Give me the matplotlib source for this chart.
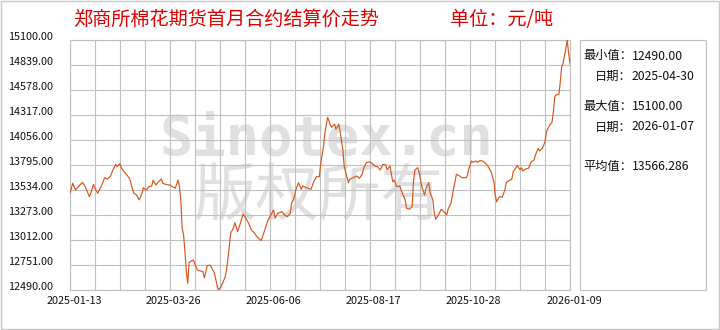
import matplotlib.pyplot as plt
import matplotlib.transforms as mtransforms
import pandas as pd

plt.rcParams['font.family'] = ['Noto Sans CJK SC', 'DejaVu Sans']

# 数据：自 2025-01-13 起的天数 与 结算价
start = '2025-01-13'
end = '2026-01-09'
day = [0, 2, 4, 6, 9, 11, 14, 15, 17, 18,
       20, 22, 23, 25, 27, 29, 31, 33, 34, 36,
       37, 39, 41, 43, 45, 46, 48, 50, 52, 53,
       55, 57, 59, 60, 62, 64, 66, 67, 69, 72,
       74, 76, 78, 79, 80, 81, 82, 83, 84, 85,
       86, 89, 92, 96, 97, 99, 101, 104, 105, 107,
       109, 112, 113, 115, 116, 118, 119, 120, 121, 123,
       125, 127, 129, 131, 133, 135, 138, 139, 141, 143,
       145, 147, 148, 150, 153, 155, 157, 159, 160, 162,
       163, 165, 167, 168, 170, 172, 174, 176, 178, 180,
       181, 183, 184, 186, 188, 189, 191, 192, 194, 195,
       197, 198, 201, 202, 205, 207, 209, 211, 212, 214,
       216, 218, 220, 222, 224, 226, 228, 229, 231, 232,
       233, 234, 236, 238, 240, 242, 243, 245, 247, 248,
       249, 251, 252, 254, 256, 257, 259, 260, 262, 263,
       264, 266, 268, 270, 272, 273, 275, 277, 279, 281,
       283, 286, 287, 288, 290, 291, 293, 294, 296, 298,
       300, 302, 304, 306, 307, 308, 310, 312, 314, 315,
       317, 319, 320, 323, 325, 326, 327, 329, 331, 333,
       335, 336, 338, 339, 341, 343, 344, 346, 348, 349,
       350, 351, 353, 354, 355, 356, 358, 359, 360, 361]
price = [13500, 13605, 13534, 13569, 13614, 13569, 13464, 13500, 13593, 13552,
         13500, 13558, 13586, 13662, 13649, 13673, 13743, 13802, 13777, 13809,
         13767, 13725, 13690, 13656, 13552, 13500, 13482, 13430, 13500, 13558,
         13531, 13569, 13576, 13638, 13586, 13621, 13649, 13604, 13593, 13586,
         13569, 13552, 13638, 13569, 13430, 13134, 13064, 12890, 12681, 12560,
         12779, 12803, 12699, 12681, 12615, 12741, 12751, 12678, 12615, 12490,
         12521, 12626, 12699, 12942, 13082, 13137, 13193, 13151, 13099, 13186,
         13283, 13239, 13186, 13116, 13088, 13046, 13005, 13046, 13134, 13221,
         13273, 13325, 13239, 13291, 13307, 13273, 13255, 13291, 13395, 13464,
         13534, 13610, 13541, 13576, 13562, 13552, 13541, 13621, 13673, 13673,
         13805, 13986, 14126, 14293, 14213, 14189, 14223, 14168, 14223, 14143,
         13952, 13777, 13610, 13646, 13667, 13680, 13656, 13701, 13761, 13819,
         13829, 13813, 13785, 13777, 13743, 13802, 13795, 13743, 13785, 13701,
         13621, 13638, 13569, 13576, 13500, 13430, 13343, 13333, 13360, 13621,
         13743, 13767, 13725, 13569, 13482, 13552, 13610, 13506, 13430, 13291,
         13228, 13273, 13333, 13307, 13273, 13336, 13395, 13552, 13698, 13683,
         13662, 13662, 13690, 13761, 13837, 13823, 13837, 13823, 13840, 13837,
         13813, 13777, 13725, 13621, 13482, 13412, 13464, 13458, 13534, 13614,
         13631, 13649, 13725, 13788, 13743, 13767, 13732, 13753, 13761, 13829,
         13847, 13899, 13969, 13941, 13969, 14038, 14143, 14205, 14241, 14351,
         14508, 14526, 14533, 14665, 14821, 14857, 15013, 15100, 14960, 14850]

y_ticks = [12490, 12751, 13012, 13273, 13534, 13795, 14056, 14317, 14578, 14839, 15100]
x_labels = ['2025-01-13', '2025-03-26', '2025-06-06', '2025-08-17', '2025-10-28', '2026-01-09']

title = '郑商所棉花期货首月合约结算价走势'
unit = '单位：元/吨'
stat_names = ['最小值：', '日期：', '最大值：', '日期：', '平均值：']
stat_values = ['12490.00', '2025-04-30', '15100.00', '2026-01-07', '13566.286']

W, H = 720, 330
grid_c = '#c0c0c0'
line_c = '#d6561e'

fig = plt.figure(figsize=(W / 100, H / 100), dpi=100)
ax = fig.add_axes([70 / W, 1 - 290 / H, 500 / W, 250 / H])

x0, x1 = pd.Timestamp(start), pd.Timestamp(end)
dates = x0 + pd.to_timedelta(day, unit='D')
ax.plot(dates, price, color=line_c, lw=0.85, zorder=3)
ax.set_xlim(x0, x1)
ax.set_ylim(y_ticks[0], y_ticks[-1])

# 网格
for t in pd.date_range(x0, x1, periods=21):
    ax.axvline(t, color=grid_c, lw=0.8, zorder=2)
for v in y_ticks:
    ax.axhline(v, color=grid_c, lw=0.8, zorder=2)
for s in ax.spines.values():
    s.set_color(grid_c)
    s.set_linewidth(0.8)

ax.set_xticks(pd.to_datetime(x_labels))
ax.set_xticklabels(x_labels, fontsize=7.8, color='#111111')
ax.set_yticks(y_ticks)
ax.set_yticklabels(['%d.00' % v for v in y_ticks], fontsize=7.8, color='#111111', ha='left')
ax.tick_params(axis='x', length=0, pad=4)
ax.tick_params(axis='y', length=0, pad=62 * 0.72)
dx = mtransforms.ScaledTranslation(4 / 100, 0, fig.dpi_scale_trans)
dy = mtransforms.ScaledTranslation(0, 4 / 100, fig.dpi_scale_trans)
for lab in ax.get_xticklabels():
    lab.set_transform(lab.get_transform() + dx)
for lab in ax.get_yticklabels():
    lab.set_transform(lab.get_transform() + dy)

# 水印
ax.text(326 / W, 1 - 155 / H, 'Sinotex.cn', transform=fig.transFigure, fontsize=40,
        family='DejaVu Sans Mono', weight='bold', color='#e0e0e0',
        ha='center', va='baseline', zorder=1)
ax.text(318 / W, 1 - 198 / H, '版权所有', transform=fig.transFigure, fontsize=45,
        color='#e0e0e0', ha='center', va='center', zorder=1)

# 标题
fig.text(73 / W, 1 - 19 / H, title, fontsize=13.8, color='#e00000', va='center')
fig.text(450 / W, 1 - 19 / H, unit, fontsize=13.8, color='#e00000', va='center')

# 右侧统计框
fig.add_artist(plt.Rectangle((580 / W, 1 - 290 / H), 126 / W, 250 / H,
                             transform=fig.transFigure, fill=False, ec=grid_c, lw=0.8))
stat_y = [56, 76, 106, 127, 166]
for name, val, yy in zip(stat_names, stat_values, stat_y):
    fig.text(632 / W, 1 - yy / H, name, fontsize=8.8, color='#111111', ha='right', va='center')
    fig.text(632 / W, 1 - yy / H, val, fontsize=8.8, color='#111111', ha='left', va='center')

# 外框
fig.add_artist(plt.Rectangle((1 / W, 1 / H), 1 - 2 / W, 1 - 2 / H,
                             transform=fig.transFigure, fill=False, ec='#c8c8c8', lw=1))

fig.savefig('out.png', dpi=100)
